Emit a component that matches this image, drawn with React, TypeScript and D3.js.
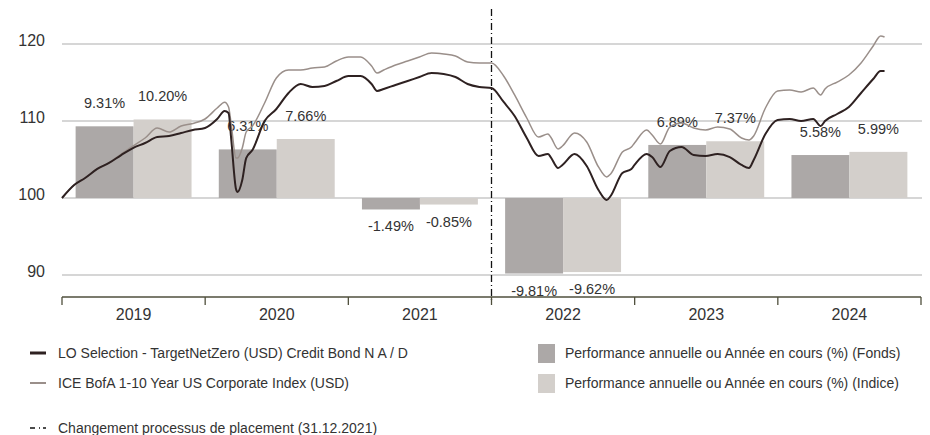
import React from "react";
import * as d3 from "d3";

// annual performance (bars)
const years = ["2019", "2020", "2021", "2022", "2023", "2024"];
const fundPerf = [9.31, 6.31, -1.49, -9.81, 6.89, 5.58];
const indexPerf = [10.2, 7.66, -0.85, -9.62, 7.37, 5.99];
const yTicks = [90, 100, 110, 120];

// rebased performance lines (start = 100)
const lineDates = [
  "2019-01-01", "2019-02-01", "2019-03-01", "2019-04-01", "2019-05-01", "2019-06-01",
  "2019-07-01", "2019-08-01", "2019-09-01", "2019-10-01", "2019-11-01", "2019-12-01",
  "2020-01-01", "2020-02-01", "2020-02-20", "2020-03-01", "2020-03-08", "2020-03-20",
  "2020-03-24", "2020-04-05", "2020-04-15", "2020-05-01", "2020-06-01", "2020-07-01",
  "2020-08-01", "2020-09-01", "2020-10-01", "2020-11-01", "2020-12-01",
  "2021-01-01", "2021-02-01", "2021-03-01", "2021-03-15", "2021-04-01", "2021-05-01",
  "2021-06-01", "2021-07-01", "2021-08-01", "2021-09-01", "2021-10-01", "2021-11-01",
  "2021-12-01",
  "2022-01-01", "2022-02-01", "2022-03-01", "2022-04-01", "2022-05-01", "2022-05-25",
  "2022-06-01", "2022-06-20", "2022-07-01", "2022-08-01", "2022-09-01", "2022-10-01",
  "2022-10-22", "2022-11-01", "2022-12-01", "2022-12-24",
  "2023-01-01", "2023-02-01", "2023-02-15", "2023-03-08", "2023-04-01", "2023-05-01",
  "2023-06-01", "2023-07-01", "2023-08-01", "2023-09-01", "2023-10-01", "2023-10-20",
  "2023-11-01", "2023-12-01",
  "2024-01-01", "2024-02-01", "2024-03-01", "2024-04-01", "2024-04-20", "2024-05-01",
  "2024-06-01", "2024-07-01", "2024-08-01", "2024-09-01", "2024-09-20", "2024-09-30",
];
const fundLine = [
  100.0, 101.69, 102.6, 103.77, 104.55, 105.58,
  106.49, 107.14, 107.92, 108.05, 108.44, 108.83,
  109.09, 110.26, 111.3, 111.04, 107.53, 101.17,
  100.78, 102.34, 105.19, 106.23, 110.0, 111.56,
  113.64, 114.81, 114.42, 114.55, 115.19,
  115.84, 115.84, 114.81, 113.9, 114.16, 114.68,
  115.19, 115.71, 116.23, 116.1, 115.71, 114.81,
  114.42,
  114.29, 112.47, 110.65, 107.79, 105.45, 105.71,
  105.32, 103.9, 104.29, 105.71, 104.16, 101.04,
  99.74, 100.26, 103.25, 103.77,
  104.29, 105.71, 105.32, 104.03, 106.1, 106.62,
  105.58, 105.45, 105.71, 105.32, 104.29, 103.9,
  104.94, 108.31,
  110.13, 110.26, 110.0, 110.26, 109.35, 110.0,
  110.91, 111.82, 113.64, 115.45, 116.49, 116.49,
];
const indexLine = [
  100.0, 101.69, 102.6, 103.77, 104.55, 105.71,
  106.75, 107.79, 109.09, 108.57, 109.35, 109.68,
  110.26, 111.69, 112.45, 111.82, 109.48, 105.19,
  105.19, 106.49, 108.57, 109.35, 112.34, 115.58,
  116.62, 116.62, 116.88, 117.01, 117.79,
  118.31, 118.31, 117.14, 116.23, 116.62, 117.27,
  117.79, 118.31, 118.83, 118.7, 118.44, 117.66,
  117.53,
  117.53, 115.84, 113.38, 110.39, 107.92, 108.31,
  107.92, 106.36, 106.75, 108.44, 107.27, 104.03,
  102.73, 103.12, 105.97, 106.62,
  107.14, 108.83, 108.18, 107.01, 109.22, 109.74,
  109.09, 108.83, 109.22, 108.96, 107.79, 107.53,
  108.05, 111.69,
  113.9, 114.03, 113.77, 114.29, 113.38, 114.16,
  115.06, 115.97, 117.53, 119.74, 121.04, 120.91,
];
const changeDate = "2022-01-01";

const fundName = "LO Selection - TargetNetZero (USD) Credit Bond N A / D";
const indexName = "ICE BofA 1-10 Year US Corporate Index (USD)";
const fundBarName = "Performance annuelle ou Année en cours (%) (Fonds)";
const indexBarName = "Performance annuelle ou Année en cours (%) (Indice)";
const changeName = "Changement processus de placement (31.12.2021)";

const W = 930;
const H = 435;
const C_FUND_BAR = "#aca8a7";
const C_INDEX_BAR = "#d3cfcb";
const C_FUND_LINE = "#2e2121";
const C_INDEX_LINE = "#9a8f8a";
const C_TEXT = "#333333";
const NARROW = "'Liberation Sans Narrow', 'Arial Narrow', 'Liberation Sans', sans-serif";

export default function App() {
  const parse = d3.timeParse("%Y-%m-%d");
  const x = d3.scaleTime().domain([new Date(2019, 0, 1), new Date(2025, 0, 1)]).range([62, 921]);
  const y = d3.scaleLinear().domain([90, 120]).range([275, 44]);
  const band = d3.scaleBand().domain(years).range([62, 921]);
  const inner = d3.scaleBand().domain(["fund", "index"]).range([0, band.bandwidth()]).paddingOuter(0.235);

  const line = d3
    .line<[Date, number]>()
    .x((d) => x(d[0]))
    .y((d) => y(d[1]))
    .curve(d3.curveMonotoneX);
  const fundPts = lineDates.map((d, i) => [parse(d)!, fundLine[i]] as [Date, number]);
  const indexPts = lineDates.map((d, i) => [parse(d)!, indexLine[i]] as [Date, number]);

  const axisY = 297;
  const cx = x(parse(changeDate)!);
  const bounds = years.map((yr) => band(yr)!).concat([921]);

  const bars: { key: string; v: number; x: number; w: number; fill: string }[] = [];
  years.forEach((yr, i) => {
    bars.push({ key: yr + "f", v: fundPerf[i], x: band(yr)! + inner("fund")!, w: inner.bandwidth(), fill: C_FUND_BAR });
    bars.push({ key: yr + "i", v: indexPerf[i], x: band(yr)! + inner("index")!, w: inner.bandwidth(), fill: C_INDEX_BAR });
  });

  return (
    <svg
      width={W}
      height={H}
      style={{ position: "absolute", left: 0, top: 0, background: "#fff" }}
      fontFamily="'Liberation Sans', Arial, sans-serif"
    >
      {/* grid */}
      {yTicks.map((t) => (
        <g key={t}>
          <line x1={62} x2={922} y1={y(t)} y2={y(t)} stroke="#c9c9c9" strokeWidth={1.5} />
          <text x={45} y={y(t) + 2} textAnchor="end" fontSize={16} fill={C_TEXT}>
            {t}
          </text>
        </g>
      ))}

      {/* bars */}
      {bars.map((b) => (
        <rect
          key={b.key}
          x={b.x}
          width={b.w}
          y={Math.min(y(100), y(100 + b.v))}
          height={Math.abs(y(100 + b.v) - y(100))}
          fill={b.fill}
        />
      ))}
      {bars.map((b) => (
        <text
          key={"l" + b.key}
          x={b.x + b.w / 2}
          y={b.v >= 0 ? y(100 + b.v) - 18 : y(100 + b.v) + 22}
          textAnchor="middle"
          fontSize={14.5}
          fontFamily={NARROW}
          fill={C_TEXT}
        >
          {b.v.toFixed(2) + "%"}
        </text>
      ))}

      {/* lines */}
      <path d={line(indexPts)!} fill="none" stroke={C_INDEX_LINE} strokeWidth={1.5} />
      <path d={line(fundPts)!} fill="none" stroke={C_FUND_LINE} strokeWidth={2} />

      {/* change of investment process */}
      <line x1={cx} x2={cx} y1={9} y2={axisY + 6} stroke="#111" strokeWidth={1.3} strokeDasharray="7 3 1 3" />

      {/* x axis */}
      <line x1={62} x2={921} y1={axisY} y2={axisY} stroke="#4f4f3c" strokeWidth={1.3} />
      {bounds.map((bx, i) => (
        <line key={i} x1={bx} x2={bx} y1={axisY} y2={axisY + 8} stroke="#4f4f3c" strokeWidth={1.3} />
      ))}
      {years.map((yr) => (
        <text key={yr} x={band(yr)! + band.bandwidth() / 2} y={320} textAnchor="middle" fontSize={16} fill={C_TEXT}>
          {yr}
        </text>
      ))}

      {/* legend */}
      <g fontFamily={NARROW} fontSize={14} fill={C_TEXT}>
        <line x1={30} x2={46} y1={353} y2={353} stroke={C_FUND_LINE} strokeWidth={3} />
        <text x={58} y={358}>{fundName}</text>
        <line x1={30} x2={46} y1={383} y2={383} stroke={C_INDEX_LINE} strokeWidth={2} />
        <text x={58} y={388}>{indexName}</text>
        <line x1={30} x2={46} y1={428} y2={428} stroke="#111" strokeWidth={1.3} strokeDasharray="5 4 1 3" />
        <text x={58} y={433}>{changeName}</text>

        <rect x={538} y={344} width={17} height={19} fill={C_FUND_BAR} />
        <text x={565} y={358}>{fundBarName}</text>
        <rect x={538} y={374} width={17} height={19} fill={C_INDEX_BAR} />
        <text x={565} y={388}>{indexBarName}</text>
      </g>
    </svg>
  );
}
